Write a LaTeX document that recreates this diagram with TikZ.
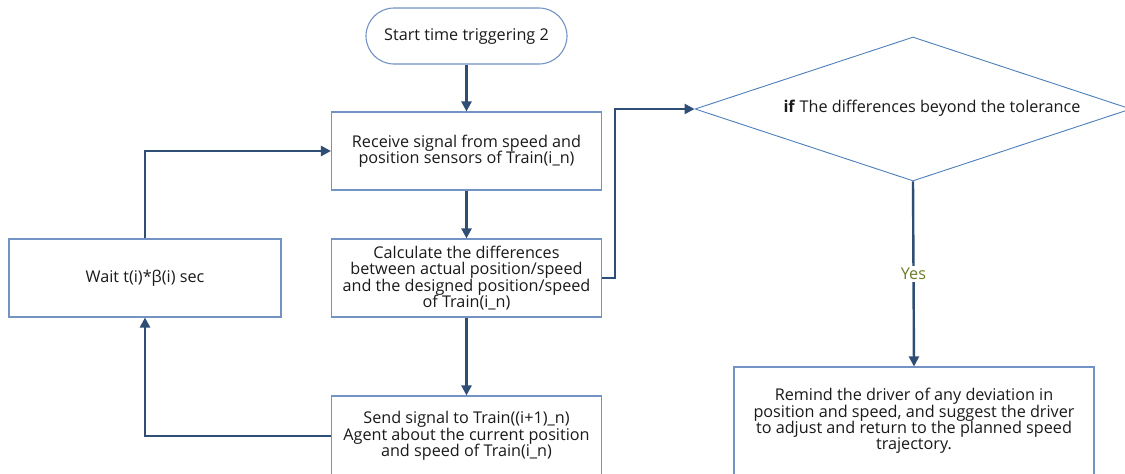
\documentclass[tikz,border=0pt]{standalone}
\usepackage{fontspec}
\setmainfont{Open Sans}
\usetikzlibrary{arrows.meta,shapes.geometric}
\definecolor{boxline}{HTML}{7393C4}
\definecolor{diamline}{HTML}{4F7FBA}
\definecolor{flow}{HTML}{2F4E76}
\definecolor{yescol}{HTML}{6E7A2A}
\definecolor{ink}{HTML}{1A1A1A}
\begin{document}
\begin{tikzpicture}[x=1pt,y=-1pt,
  every node/.style={text=ink, font=\fontsize{16.2}{16.3}\selectfont},
  procbox/.style={draw=boxline, line width=1.1pt, fill=white, align=center, inner sep=0pt},
  flowline/.style={draw=flow, line width=2.4pt, -{Triangle[length=10pt,width=10pt]}}]
\useasboundingbox (0,0) rectangle (1125,474);

% start terminal
\node[procbox, rounded corners=28pt, minimum width=201pt, minimum height=56pt]
  (start) at (466.5,36) {Start time triggering 2};

% process steps
\node[procbox, minimum width=270pt, minimum height=78pt] (recv) at (466.5,151)
  {Receive signal from speed and\\position sensors of Train(i\_n)};
\node[procbox, minimum width=270pt, minimum height=78pt] (calc) at (466.5,278)
  {Calculate the differences\\between actual position/speed\\and the designed position/speed\\of Train(i\_n)};
\node[procbox, minimum width=270pt, minimum height=80pt] (send) at (466.5,436)
  {Send signal to Train((i+1)\_n)\\Agent about the current position\\and speed of Train(i\_n)};
\node[procbox, minimum width=272pt, minimum height=78pt] (wait) at (145,278)
  {Wait t(i)*β(i) sec};

% decision
\node[draw=diamline, line width=0.9pt, diamond, fill=white, inner sep=0pt,
  minimum width=436pt, minimum height=144pt] (dec) at (913,109) {};
\node (dectext) at (932,108) {\textbf{if} The differences beyond the tolerance};

% reminder
\node[procbox, minimum width=360pt, minimum height=112pt] (remind) at (914,423) {};
\node[align=center] (remindtext) at (914,421)
  {Remind the driver of any deviation in\\position and speed, and suggest the driver\\to adjust and return to the planned speed\\trajectory.};

% connectors
\draw[flowline] (start) -- (recv);
\draw[flowline] (recv) -- (calc);
\draw[flowline] (calc) -- (send);
\draw[flowline] (send.west) -| (wait.south);
\draw[flowline] (wait.north) |- (recv.west);
\draw[flowline] (calc.east) -- ++(13,0) |- (dec.west);
\draw[flowline] (dec.south) -- node[fill=white, text=yescol, inner sep=2pt] {Yes} (remind.north);
\end{tikzpicture}
\end{document}
